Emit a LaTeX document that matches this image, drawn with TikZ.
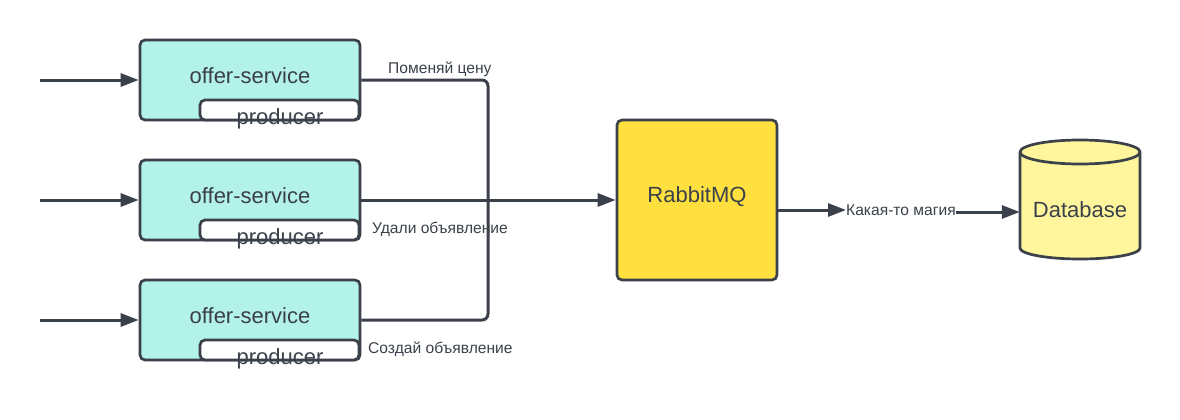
\documentclass[tikz,border=0pt]{standalone}
\usepackage{fontspec}
\setmainfont{Liberation Sans}
\usetikzlibrary{arrows.meta}
\definecolor{ink}{HTML}{3A414A}
\definecolor{teal}{HTML}{B3F2E8}
\definecolor{rabbit}{HTML}{FFE03F}
\definecolor{dbfill}{HTML}{FFF59D}
\tikzset{
  svc/.style={draw=ink,fill=teal,line width=2.7pt,rounded corners=5pt,minimum width=220pt,minimum height=80pt,inner sep=0pt},
  prod/.style={draw=ink,fill=white,line width=2.7pt,rounded corners=5pt,minimum width=159pt,minimum height=20pt,inner sep=0pt},
  bigtxt/.style={font=\fontsize{22}{24}\selectfont,text=ink},
  lbl/.style={font=\fontsize{15.6}{17}\selectfont,text=ink,inner sep=0pt},
  conn/.style={draw=ink,line width=3pt,rounded corners=6pt},
  arr/.style={conn,-{Triangle[length=18pt,width=13pt]}},
}
\begin{document}
\begin{tikzpicture}[x=1pt,y=-1pt]
\useasboundingbox (0,0) rectangle (1180,420);
% services
\foreach \i/\y in {1/80,2/200,3/320}{
  \node[svc] (s\i) at (250,\y) {};
  \node[bigtxt] (t\i) at (250,\y-4) {offer-service};
  \node[prod] (p\i) at (279.5,\y+30) {};
  \node[bigtxt,anchor=base,inner sep=0pt] (pt\i) at (280,\y+44) {producer};
  \coordinate (in\i) at (40,\y);
  \draw[arr] (in\i) -- (s\i.west);
}
% rabbit
\node[draw=ink,fill=rabbit,line width=2.7pt,rounded corners=5pt,minimum width=160pt,minimum height=160pt,inner sep=0pt] (rmq) at (697,200) {};
\node[bigtxt] (rt) at (697,197) {RabbitMQ};
% database
\node[minimum width=120pt,minimum height=120pt,inner sep=0pt] (db) at (1080,200) {};
\filldraw[draw=ink,fill=dbfill,line width=2.7pt]
  (1020,152) -- (1020,248) arc[start angle=180,end angle=0,x radius=60,y radius=11]
  -- (1140,152) arc[start angle=0,end angle=-180,x radius=60,y radius=12] -- cycle;
\draw[ink,line width=2.7pt] (1020,152) arc[start angle=180,end angle=0,x radius=60,y radius=12];
\node[bigtxt] (dbt) at (1080,210) {Database};
% connectors
\coordinate (j1) at (488,200);
\draw[conn] (s1.east) -- (488,80) -- (j1);
\draw[conn] (s3.east) -- (488,320) -- (j1);
\draw[arr] (s2.east) -- (rmq.west);
% labels
\node[lbl,anchor=base west] (l1) at (388,73.5) {Поменяй цену};
\node[lbl,anchor=base west] (l2) at (372,233.5) {Удали объявление};
\node[lbl,anchor=base west] (l3) at (368,353.5) {Создай объявление};
\node[lbl,anchor=base west] (mag) at (846,215) {Какая-то магия};
\draw[arr] (rmq.east |- 0,210) -- (mag.west |- 0,210);
\draw[arr] (mag.east |- 0,212) -- (db.west |- 0,212);
\end{tikzpicture}
\end{document}
